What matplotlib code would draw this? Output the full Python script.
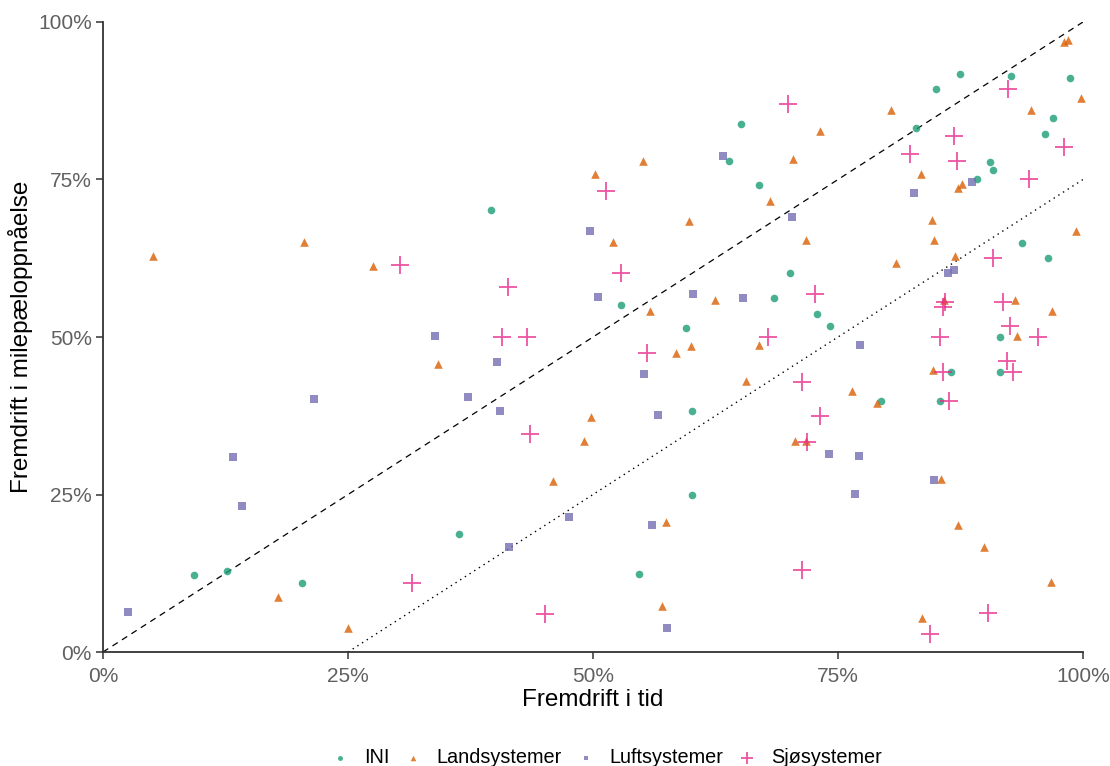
import matplotlib
matplotlib.use("Agg")
import matplotlib.pyplot as plt
from matplotlib.ticker import PercentFormatter

plt.rcParams['font.family'] = ['Liberation Sans', 'DejaVu Sans']

# (fremdrift i tid, fremdrift i milepæloppnåelse) in percent
ini_x = [65.1, 63.9, 66.9, 39.6, 52.9, 59.5, 87.4, 92.6, 98.7, 85.0, 96.9, 96.1,
         83.0, 90.5, 90.8, 89.2, 93.8, 96.4, 70.1, 68.5, 72.9, 74.2, 91.5, 9.3,
         12.7, 20.3, 60.1, 60.1, 36.3, 54.7, 86.5, 91.5, 79.4, 85.4]
ini_y = [83.8, 78.0, 74.1, 70.2, 55.0, 51.5, 91.7, 91.5, 91.1, 89.3, 84.8, 82.3,
         83.1, 77.8, 76.5, 75.1, 64.9, 62.6, 60.1, 56.2, 53.6, 51.7, 50.0, 12.2,
         12.9, 11.0, 38.2, 25.0, 18.8, 12.4, 44.5, 44.5, 39.9, 39.9]

land_x = [5.1, 20.5, 27.6, 55.1, 50.2, 52.0, 59.8, 62.4, 55.8, 98.1, 98.5, 99.8,
          80.4, 94.7, 73.2, 70.4, 83.5, 87.6, 87.2, 68.1, 84.6, 99.3, 71.7, 84.8,
          86.9, 80.9, 85.8, 93.1, 96.8, 93.3, 17.9, 25.0, 34.2, 58.5, 60.0, 66.9,
          65.6, 49.8, 49.1, 45.9, 57.4, 57.0, 84.7, 76.4, 79.0, 70.6, 71.7, 85.5,
          87.2, 89.9, 96.7, 83.6]
land_y = [62.8, 65.0, 61.3, 78.0, 75.9, 65.0, 68.4, 55.8, 54.1, 96.8, 97.2, 87.9,
          86.0, 86.0, 82.7, 78.3, 75.9, 74.3, 73.6, 71.6, 68.6, 66.9, 65.4, 65.4,
          62.8, 61.7, 55.8, 55.8, 54.1, 50.2, 8.7, 3.8, 45.7, 47.4, 48.6, 48.7,
          43.0, 37.3, 33.5, 27.2, 20.6, 7.3, 44.7, 41.4, 39.5, 33.5, 33.5, 27.4,
          20.2, 16.7, 11.1, 5.4]

luft_x = [63.3, 49.7, 50.5, 60.2, 65.3, 33.9, 88.7, 82.8, 70.3, 86.2, 86.8, 21.5,
          13.3, 14.2, 2.5, 40.2, 55.2, 37.2, 40.5, 56.6, 47.5, 56.0, 41.4, 57.5,
          77.2, 74.1, 77.1, 84.8, 76.7]
luft_y = [78.8, 66.9, 56.4, 56.9, 56.2, 50.2, 74.6, 72.9, 69.0, 60.1, 60.7, 40.2,
          30.9, 23.1, 6.3, 46.0, 44.1, 40.5, 38.2, 37.6, 21.5, 20.1, 16.7, 3.8,
          48.7, 31.5, 31.1, 27.3, 25.1]

sjo_x = [30.3, 51.3, 52.9, 41.3, 40.7, 43.3, 92.3, 69.9, 86.8, 98.1, 82.3, 87.1,
         94.5, 90.8, 72.6, 85.9, 85.7, 91.8, 92.5, 95.4, 85.4, 67.9, 31.5, 55.5,
         43.6, 45.1, 92.2, 85.7, 92.9, 71.3, 86.3, 73.2, 71.8, 71.3, 90.3, 84.4]
sjo_y = [61.5, 73.1, 60.1, 58.0, 50.0, 50.0, 89.4, 87.0, 81.9, 80.1, 79.0, 77.9,
         75.1, 62.6, 56.8, 55.6, 54.7, 55.6, 51.8, 50.0, 50.0, 50.0, 11.0, 47.4,
         34.6, 6.1, 46.2, 44.5, 44.5, 42.8, 39.9, 37.5, 33.3, 13.0, 6.2, 2.8]

fig = plt.figure(figsize=(11.1, 7.66), dpi=100)
ax = fig.add_axes([0.0928, 0.1488, 0.8829, 0.8225])

# reference lines: on schedule and 25 % behind
ax.plot([0, 100], [0, 100], ls=(0, (5, 4)), color='black', lw=0.9)
ax.plot([25, 100], [0, 75], ls=(0, (1, 3)), color='black', lw=1.0)

ax.scatter(ini_x, ini_y, marker='o', s=30, color='#1B9E77', alpha=0.8,
           lw=0, label='INI', clip_on=False, zorder=3)
ax.scatter(land_x, land_y, marker='^', s=38, color='#D95F02', alpha=0.8,
           lw=0, label='Landsystemer', clip_on=False, zorder=3)
ax.scatter(luft_x, luft_y, marker='s', s=30, color='#7570B3', alpha=0.8,
           lw=0, label='Luftsystemer', clip_on=False, zorder=3)
ax.scatter(sjo_x, sjo_y, marker='+', s=150, color='#E7298A', alpha=0.8,
           lw=1.3, label='Sjøsystemer', clip_on=False, zorder=3)

ax.set_xlim(0, 100)
ax.set_ylim(0, 100)
ax.set_xticks([0, 25, 50, 75, 100])
ax.set_yticks([0, 25, 50, 75, 100])
ax.xaxis.set_major_formatter(PercentFormatter(decimals=0))
ax.yaxis.set_major_formatter(PercentFormatter(decimals=0))

for side in ['top', 'right']:
    ax.spines[side].set_visible(False)
for side in ['left', 'bottom']:
    ax.spines[side].set_color('#333333')
    ax.spines[side].set_linewidth(1.3)
ax.tick_params(colors='#333333', labelcolor='#606060', labelsize=15,
               length=5, width=1.1, pad=3)
ax.tick_params(axis='x', pad=6)

ax.set_xlabel('Fremdrift i tid', fontsize=17.5, color='black', labelpad=2)
ax.set_ylabel('Fremdrift i milepæloppnåelse', fontsize=17.5, color='black', labelpad=4)

fig.legend(loc='center', bbox_to_anchor=(0.545, 0.011), ncol=4,
           frameon=False, fontsize=14.3, markerscale=0.65,
           handlelength=1.2, handletextpad=0.6, columnspacing=0.6,
           borderpad=0)

fig.savefig('out.png', dpi=100)
